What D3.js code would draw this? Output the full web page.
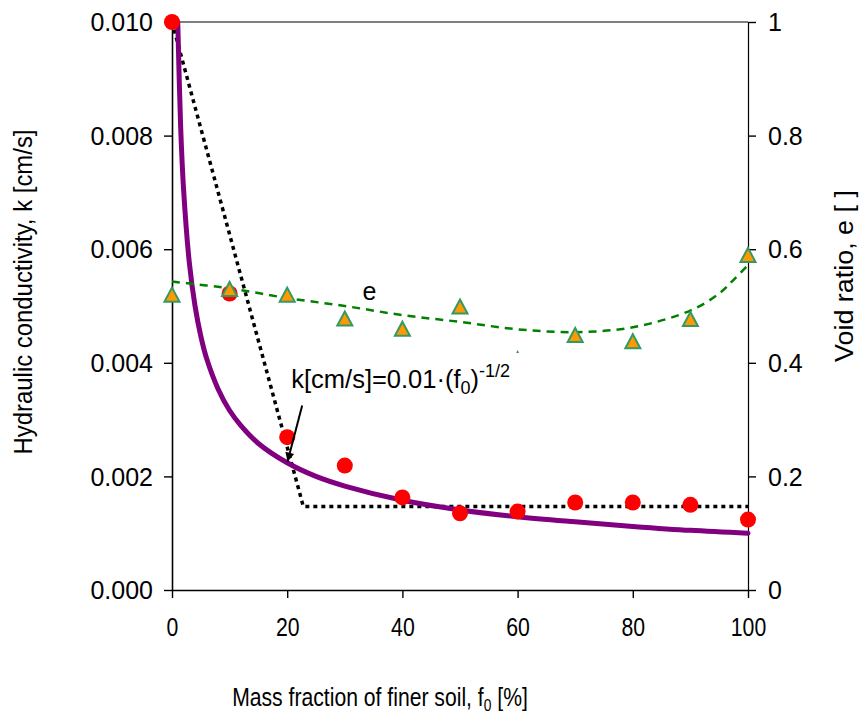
<!DOCTYPE html>
<html>
<head>
<meta charset="utf-8">
<script src="https://cdn.jsdelivr.net/npm/d3@7"></script>
<style>
  body { margin: 0; background: #fff; }
  svg text { font-family: "Liberation Sans", Arial, sans-serif; fill: #000; }
</style>
</head>
<body>
<div id="chart"></div>
<script>
(function () {
  "use strict";

  // measured hydraulic conductivity (red dots)
  const kFines = [0, 10, 20, 30, 40, 50, 60, 70, 80, 90, 100];
  const kMeasured = [0.0100, 0.00522, 0.00269, 0.00219, 0.00163, 0.00135, 0.00138, 0.00154, 0.00154, 0.00150, 0.00124];

  // void ratio (triangles, right axis)
  const eFines = [0, 10, 20, 30, 40, 50, 70, 80, 90, 100];
  const eMeasured = [0.52, 0.53, 0.52, 0.478, 0.46, 0.499, 0.449, 0.438, 0.477, 0.59];
  // the little stray marker at 60 %
  const eStrayFines = [60];
  const eStray = [0.42];

  // void ratio trend line (green dashes)
  const eTrendFines = [0, 10, 20, 30, 40, 50, 60, 70, 80, 90, 95, 97.5, 100];
  const eTrend = [0.543, 0.531, 0.514, 0.5, 0.484, 0.472, 0.459, 0.454, 0.4625, 0.492, 0.522, 0.546, 0.572];

  // k = 0.01 f^-1/2 curve (purple)
  const kFitFines = [1, 1.5, 2, 3, 4, 5, 6, 8, 10, 12, 15, 20, 25, 30, 40, 50, 60, 70, 80, 90, 100];
  const kFit = [0.0100, 0.00816, 0.00707, 0.00577, 0.0050, 0.00447, 0.00408, 0.00354, 0.00316, 0.00289, 0.00258,
    0.00224, 0.0020, 0.00183, 0.00158, 0.00141, 0.00129, 0.0012, 0.00112, 0.00105, 0.0010];

  // bilinear model (black dots)
  const kLinFines = [0, 22.8, 100];
  const kLin = [0.0100, 0.00147, 0.00147];

  const xTicks = [0, 20, 40, 60, 80, 100];
  const kTicks = [0, 0.002, 0.004, 0.006, 0.008, 0.010];
  const eTicks = [0, 0.2, 0.4, 0.6, 0.8, 1];

  const width = 860;
  const height = 715;
  const margin = { top: 22, right: 112, bottom: 125, left: 172 };
  const innerW = width - margin.left - margin.right;
  const innerH = height - margin.top - margin.bottom;

  const svg = d3
    .select("#chart")
    .append("svg")
    .attr("width", width)
    .attr("height", height);

  const g = svg
    .append("g")
    .attr("transform", `translate(${margin.left},${margin.top})`);

  const x = d3.scaleLinear().domain([0, 100]).range([0, innerW]);
  const yK = d3.scaleLinear().domain([0, 0.01]).range([innerH, 0]);
  const yE = d3.scaleLinear().domain([0, 1]).range([innerH, 0]);

  // frame top line
  g.append("line")
    .attr("x1", 0)
    .attr("x2", innerW)
    .attr("y1", 0)
    .attr("y2", 0)
    .attr("stroke", "#000")
    .attr("stroke-width", 1.2);

  // axes
  const xAxis = g
    .append("g")
    .attr("transform", `translate(0,${innerH})`)
    .call(d3.axisBottom(x).tickValues(xTicks).tickSize(8).tickSizeOuter(0).tickPadding(20));

  const yAxis = g
    .append("g")
    .call(d3.axisLeft(yK).tickValues(kTicks).tickFormat(d3.format(".3f")).tickSize(8).tickSizeOuter(0).tickPadding(11));

  const eAxis = g
    .append("g")
    .attr("transform", `translate(${innerW},0)`)
    .call(d3.axisRight(yE).tickValues(eTicks).tickFormat(d3.format("~g")).tickSize(8).tickSizeOuter(0).tickPadding(12));

  [xAxis, yAxis, eAxis].forEach((a) => {
    a.select(".domain").attr("stroke", "#000").attr("stroke-width", 1.6);
    a.selectAll(".tick line").attr("stroke", "#000").attr("stroke-width", 1.4);
  });
  eAxis.select(".domain").attr("stroke-width", 1.2);

  yAxis.selectAll(".tick text").style("font-size", "25px").attr("dy", "0.35em");
  eAxis.selectAll(".tick text").style("font-size", "25px").attr("dy", "0.35em");
  xAxis
    .selectAll(".tick text")
    .style("font-size", "25px")
    .each(function () {
      const w = this.getComputedTextLength();
      d3.select(this).attr("textLength", w * 0.85).attr("lengthAdjust", "spacingAndGlyphs");
    });

  // bilinear dotted line
  const lin = kLinFines.map((f, i) => [f, kLin[i]]);
  g.append("path")
    .datum(lin)
    .attr("fill", "none")
    .attr("stroke", "#000")
    .attr("stroke-width", 3.5)
    .attr("stroke-dasharray", "4,4")
    .attr("d", d3.line().x((d) => x(d[0])).y((d) => yK(d[1])));

  // fitted curve
  const fit = kFitFines.map((f, i) => [f, kFit[i]]);
  g.append("path")
    .datum(fit)
    .attr("fill", "none")
    .attr("stroke", "#800080")
    .attr("stroke-width", 5)
    .attr("stroke-linecap", "round")
    .attr("d", d3.line().curve(d3.curveCatmullRom).x((d) => x(d[0])).y((d) => yK(d[1])));

  // void ratio trend
  const trend = eTrendFines.map((f, i) => [f, eTrend[i]]);
  g.append("path")
    .datum(trend)
    .attr("fill", "none")
    .attr("stroke", "#008000")
    .attr("stroke-width", 2.5)
    .attr("stroke-dasharray", "8,6")
    .attr("d", d3.line().curve(d3.curveCatmullRom).x((d) => x(d[0])).y((d) => yE(d[1])));

  // red dots
  g.append("g")
    .selectAll("circle")
    .data(kFines.map((f, i) => [f, kMeasured[i]]))
    .join("circle")
    .attr("cx", (d) => x(d[0]))
    .attr("cy", (d) => yK(d[1]))
    .attr("r", 8)
    .attr("fill", "#ff0000");

  // triangles, centred on their bounding box
  function tri(w, h) {
    return `M0,${-h / 2}L${w / 2},${h / 2}L${-w / 2},${h / 2}Z`;
  }
  g.append("g")
    .selectAll("path")
    .data(eFines.map((f, i) => [f, eMeasured[i]]))
    .join("path")
    .attr("transform", (d) => `translate(${x(d[0])},${yE(d[1])})`)
    .attr("d", tri(15, 14))
    .attr("fill", "#ff9900")
    .attr("stroke", "#339966")
    .attr("stroke-width", 2);

  g.append("g")
    .selectAll("path")
    .data(eStrayFines.map((f, i) => [f, eStray[i]]))
    .join("path")
    .attr("transform", (d) => `translate(${x(d[0])},${yE(d[1])})`)
    .attr("d", tri(3, 3))
    .attr("fill", "#339966");

  // "e" label
  g.append("text")
    .attr("x", x(34.3))
    .attr("y", yE(0.51))
    .attr("text-anchor", "middle")
    .style("font-size", "25px")
    .text("e");

  // equation label + arrow
  const eq = g
    .append("text")
    .attr("x", x(20.7))
    .attr("y", yK(0.00356))
    .style("font-size", "25.5px");
  eq.append("tspan").text("k[cm/s]=0.01·(f");
  eq.append("tspan").attr("dy", 6).style("font-size", "18px").text("0");
  eq.append("tspan").attr("dy", -6).text(")");
  eq.append("tspan").attr("dy", -11).style("font-size", "18px").text("-1/2");

  svg
    .append("defs")
    .append("marker")
    .attr("id", "arrow")
    .attr("viewBox", "0 0 10 10")
    .attr("refX", 10)
    .attr("refY", 5)
    .attr("markerWidth", 18)
    .attr("markerHeight", 9)
    .attr("markerUnits", "userSpaceOnUse")
    .attr("orient", "auto")
    .append("path")
    .attr("d", "M0,0L10,5L0,10Z")
    .attr("fill", "#000");

  g.append("line")
    .attr("x1", x(22.6))
    .attr("y1", yK(0.00325))
    .attr("x2", x(20.05))
    .attr("y2", yK(0.00226))
    .attr("stroke", "#000")
    .attr("stroke-width", 2)
    .attr("marker-end", "url(#arrow)");

  // squeeze a text horizontally to a target width around its anchor
  function squeeze(sel, cx, cy, target, rotate) {
    const w = sel.node().getComputedTextLength();
    const s = target / w;
    sel.attr("transform", `translate(${cx},${cy})${rotate ? " rotate(-90)" : ""} scale(${s},1)`);
  }

  // axis titles
  const xTitle = svg.append("text")
    .attr("text-anchor", "middle")
    .style("font-size", "26px");
  xTitle.append("tspan").text("Mass fraction of finer soil, f");
  xTitle.append("tspan").attr("dy", 5).style("font-size", "17px").text("0");
  xTitle.append("tspan").attr("dy", -5).text(" [%]");
  squeeze(xTitle, 380, 706, 296, false);

  const kTitle = svg.append("text")
    .attr("text-anchor", "middle")
    .style("font-size", "26px")
    .text("Hydraulic conductivity, k [cm/s]");
  squeeze(kTitle, 32, 292, 325, true);

  const eTitle = svg.append("text")
    .attr("text-anchor", "middle")
    .style("font-size", "26px")
    .text("Void ratio, e [ ]");
  squeeze(eTitle, 853, 276, 172, true);
})();
</script>
</body>
</html>
